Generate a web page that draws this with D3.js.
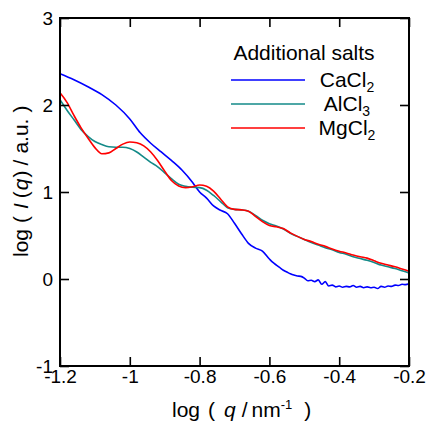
<!DOCTYPE html>
<html>
<head>
<meta charset="utf-8">
<script src="https://cdn.jsdelivr.net/npm/d3@7"></script>
<style>
  body { margin: 0; background: #fff; }
  svg text { font-family: Arial, "Liberation Sans", sans-serif; fill: #000; }
</style>
</head>
<body>
<svg id="chart" width="427" height="425"></svg>
<script>
// log q values and log I values
var caQ = [-1.20, -1.16, -1.12, -1.08, -1.04, -1.00, -0.97, -0.94, -0.91, -0.88, -0.85, -0.82, -0.80,
  -0.78, -0.76, -0.74, -0.72, -0.70, -0.68, -0.66, -0.64, -0.62,
  -0.60, -0.59, -0.58, -0.57, -0.56, -0.55, -0.54, -0.53, -0.52, -0.51, -0.50, -0.49, -0.48, -0.47,
  -0.46, -0.45, -0.44, -0.43, -0.42, -0.41, -0.40, -0.39, -0.38, -0.37, -0.36, -0.35, -0.34, -0.33,
  -0.32, -0.31, -0.30, -0.29, -0.28, -0.27, -0.26, -0.25, -0.24, -0.23, -0.22, -0.21, -0.20];
var caI = [2.36, 2.29, 2.21, 2.12, 2.00, 1.84, 1.68, 1.56, 1.46, 1.36, 1.25, 1.11, 1.00,
  0.93, 0.84, 0.79, 0.75, 0.64, 0.52, 0.41, 0.355, 0.32,
  0.23, 0.19, 0.16, 0.13, 0.10, 0.08, 0.06, 0.045, 0.035, 0.03, 0.01, -0.02, -0.015, -0.03,
  -0.01, -0.06, -0.03, -0.08, -0.07, -0.09, -0.08, -0.095, -0.085, -0.09, -0.075, -0.095, -0.085, -0.10,
  -0.09, -0.10, -0.095, -0.11, -0.085, -0.095, -0.08, -0.085, -0.07, -0.075, -0.06, -0.065, -0.055];

var alQ = [-1.20, -1.18, -1.16, -1.14, -1.12, -1.10, -1.08, -1.06, -1.04, -1.02, -1.00, -0.98, -0.96,
  -0.94, -0.92, -0.90, -0.88, -0.86, -0.84, -0.82, -0.80, -0.78, -0.76, -0.74, -0.72, -0.70, -0.68,
  -0.66, -0.64, -0.62, -0.60, -0.58, -0.56, -0.54, -0.52, -0.50, -0.48, -0.46, -0.44, -0.42, -0.40,
  -0.38, -0.36, -0.34, -0.32, -0.30, -0.28, -0.26, -0.24, -0.22, -0.20];
var alI = [2.06, 1.94, 1.83, 1.72, 1.64, 1.58, 1.545, 1.52, 1.515, 1.515, 1.50, 1.46, 1.40,
  1.34, 1.29, 1.22, 1.15, 1.09, 1.065, 1.055, 1.05, 1.02, 0.96, 0.89, 0.82, 0.80, 0.795,
  0.78, 0.73, 0.675, 0.635, 0.61, 0.575, 0.525, 0.49, 0.455, 0.42, 0.39, 0.36, 0.335, 0.305,
  0.285, 0.255, 0.235, 0.215, 0.19, 0.16, 0.14, 0.12, 0.095, 0.07];

var mgQ = alQ;
var mgI = [2.14, 2.03, 1.88, 1.74, 1.62, 1.51, 1.44, 1.45, 1.50, 1.55, 1.575, 1.565, 1.53,
  1.46, 1.36, 1.24, 1.13, 1.07, 1.05, 1.06, 1.08, 1.065, 1.01, 0.92, 0.83, 0.80, 0.795,
  0.78, 0.72, 0.66, 0.615, 0.60, 0.58, 0.53, 0.49, 0.455, 0.43, 0.40, 0.375, 0.345, 0.32,
  0.30, 0.275, 0.255, 0.24, 0.21, 0.18, 0.16, 0.14, 0.115, 0.09];

var seriesNames = ["CaCl", "AlCl", "MgCl"];
var seriesSubs = ["2", "3", "2"];
var seriesColors = ["#0000ff", "#138a88", "#ff0000"];

var xTicks = [-1.2, -1, -0.8, -0.6, -0.4, -0.2];
var xTickLabels = ["-1.2", "-1", "-0.8", "-0.6", "-0.4", "-0.2"];
var yTicks = [-1, 0, 1, 2, 3];
var yTickLabels = ["-1", "0", "1", "2", "3"];

var svg = d3.select("#chart"),
    WIDTH = 427,
    HEIGHT = 425,
    MARGINS = { top: 18, right: 18, bottom: 59, left: 60 };

var xScale = d3.scaleLinear().domain([-1.2, -0.2]).range([MARGINS.left, WIDTH - MARGINS.right]);
var yScale = d3.scaleLinear().domain([-1, 3]).range([HEIGHT - MARGINS.bottom, MARGINS.top]);

function zip(q, v) {
  return q.map(function (d, i) { return [d, v[i]]; });
}
var series = [zip(caQ, caI), zip(alQ, alI), zip(mgQ, mgI)];

var line = d3.line()
  .x(function (d) { return xScale(d[0]); })
  .y(function (d) { return yScale(d[1]); })
  .curve(d3.curveMonotoneX);

svg.append("rect").attr("width", WIDTH).attr("height", HEIGHT).attr("fill", "#fff");

var plot = svg.append("g");
series.forEach(function (s, i) {
  plot.append("path")
    .datum(s)
    .attr("d", line)
    .attr("fill", "none")
    .attr("stroke", seriesColors[i])
    .attr("stroke-width", 1.6);
});

// axes with inward ticks
var xAxis = d3.axisBottom(xScale).tickValues(xTicks)
  .tickFormat(function (d, i) { return xTickLabels[i]; })
  .tickSizeInner(-9).tickSizeOuter(0).tickPadding(4);
var yAxis = d3.axisLeft(yScale).tickValues(yTicks)
  .tickFormat(function (d, i) { return yTickLabels[i]; })
  .tickSizeInner(-9).tickSizeOuter(0).tickPadding(7);
var xTop = d3.axisTop(xScale).tickValues(xTicks).tickFormat("").tickSizeInner(-9).tickSizeOuter(0);
var yRight = d3.axisRight(yScale).tickValues(yTicks).tickFormat("").tickSizeInner(-9).tickSizeOuter(0);

var gx = svg.append("g").attr("transform", "translate(0," + (HEIGHT - MARGINS.bottom) + ")").call(xAxis);
var gy = svg.append("g").attr("transform", "translate(" + MARGINS.left + ",0)").call(yAxis);
var gt = svg.append("g").attr("transform", "translate(0," + MARGINS.top + ")").call(xTop);
var gr = svg.append("g").attr("transform", "translate(" + (WIDTH - MARGINS.right) + ",0)").call(yRight);

[gx, gy, gt, gr].forEach(function (g) {
  g.select(".domain").remove();
  g.selectAll(".tick line").attr("stroke", "#000").attr("stroke-width", 1.6);
  g.selectAll(".tick text").attr("font-size", 19).attr("font-family", "Arial, 'Liberation Sans', sans-serif");
});

svg.append("rect")
  .attr("x", MARGINS.left).attr("y", MARGINS.top)
  .attr("width", WIDTH - MARGINS.right - MARGINS.left)
  .attr("height", HEIGHT - MARGINS.bottom - MARGINS.top)
  .attr("fill", "none").attr("stroke", "#000").attr("stroke-width", 2);

// axis titles
var xt = svg.append("text").attr("x", 172).attr("y", 417).attr("font-size", 21);
xt.append("tspan").text("log");
xt.append("tspan").attr("dx", 8).text("(");
xt.append("tspan").attr("dx", 9).attr("font-style", "italic").text("q");
xt.append("tspan").attr("dx", 6).text("/");
xt.append("tspan").attr("dx", 4).text("nm");
xt.append("tspan").attr("dy", -8).attr("font-size", 13).text("-1");
xt.append("tspan").attr("dy", 8).attr("dx", 12).text(")");

var yt = svg.append("text").attr("transform", "translate(28,257) rotate(-90)").attr("font-size", 21);
yt.append("tspan").text("log");
yt.append("tspan").attr("dx", 6).text("(");
yt.append("tspan").attr("dx", 7).attr("font-style", "italic").text("I");
yt.append("tspan").attr("dx", 5).text("(");
yt.append("tspan").attr("dx", 1).attr("font-style", "italic").text("q");
yt.append("tspan").attr("dx", 1).text(")");
yt.append("tspan").attr("dx", 5).text("/");
yt.append("tspan").attr("dx", 6).text("a.u.");
yt.append("tspan").attr("dx", 6).text(")");

// legend
var legend = svg.append("g");
legend.append("text").attr("x", 304).attr("y", 60).attr("text-anchor", "middle")
  .attr("font-size", 21).text("Additional salts");
var legendY = [80, 104, 128];
seriesNames.forEach(function (name, i) {
  legend.append("line")
    .attr("x1", 231).attr("x2", 305)
    .attr("y1", legendY[i]).attr("y2", legendY[i])
    .attr("stroke", seriesColors[i]).attr("stroke-width", 1.6);
  var t = legend.append("text").attr("x", 347).attr("y", legendY[i] + 7)
    .attr("text-anchor", "middle").attr("font-size", 21);
  t.append("tspan").text(name);
  t.append("tspan").attr("dy", 5).attr("font-size", 14).text(seriesSubs[i]);
});
</script>
</body>
</html>
